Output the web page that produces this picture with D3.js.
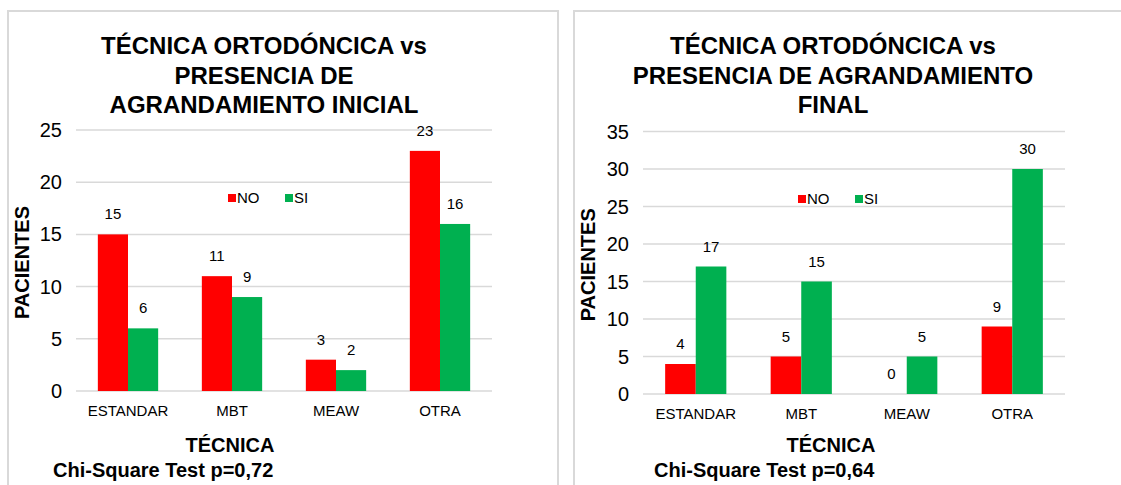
<!DOCTYPE html>
<html>
<head>
<meta charset="utf-8">
<script src="https://cdn.jsdelivr.net/npm/d3@7"></script>
<style>
  body { margin: 0; background: #fff; }
  svg { display: block; font-family: "Liberation Sans", Arial, sans-serif; }
</style>
</head>
<body>
<svg width="1121" height="485"></svg>
<script>
// data
const categories = ["ESTANDAR", "MBT", "MEAW", "OTRA"];
const seriesNames = ["NO", "SI"];
const inicialNO = [15, 11, 3, 23];
const inicialSI = [6, 9, 2, 16];
const finalNO = [4, 5, 0, 9];
const finalSI = [17, 15, 5, 30];
const colors = ["#FF0000", "#00B050"];

var svg = d3.select("svg");

function drawChart(opt) {
  var g = svg.append("g");

  // panel frame
  g.append("rect")
    .attr("x", opt.panel[0])
    .attr("y", opt.panel[1])
    .attr("width", opt.panel[2])
    .attr("height", opt.panel[3])
    .attr("fill", "#fff")
    .attr("stroke", "#D9D9D9")
    .attr("stroke-width", 2);

  var x = d3.scaleBand().domain(categories).range([opt.x0, opt.x1]).paddingInner(0.42).paddingOuter(0.21);
  var xs = d3.scaleBand().domain(seriesNames).range([0, x.bandwidth()]);
  var y = d3.scaleLinear().domain([0, opt.max]).range([opt.y0, opt.y1]);

  // gridlines + y ticks
  var ticks = d3.range(0, opt.max + 1, 5);
  g.selectAll(".grid")
    .data(ticks)
    .enter()
    .append("line")
    .attr("x1", opt.x0)
    .attr("x2", opt.x1)
    .attr("y1", (d) => y(d))
    .attr("y2", (d) => y(d))
    .attr("stroke", "#D9D9D9")
    .attr("stroke-width", 1.5);

  g.selectAll(".ytick")
    .data(ticks)
    .enter()
    .append("text")
    .attr("x", opt.x0 - 14)
    .attr("y", (d) => y(d) + 7)
    .attr("text-anchor", "end")
    .attr("font-size", "20px")
    .attr("fill", "#000")
    .text((d) => d);

  // bars
  var rows = categories.map((c, i) => ({ cat: c, vals: [opt.no[i], opt.si[i]] }));
  var groups = g.selectAll(".grp")
    .data(rows)
    .enter()
    .append("g")
    .attr("transform", (d) => "translate(" + x(d.cat) + ",0)");

  groups.selectAll("rect")
    .data((d) => d.vals.map((v, j) => ({ s: seriesNames[j], v: v, j: j })))
    .enter()
    .append("rect")
    .attr("x", (d) => xs(d.s))
    .attr("width", xs.bandwidth())
    .attr("y", (d) => y(d.v))
    .attr("height", (d) => y(0) - y(d.v))
    .attr("fill", (d) => colors[d.j]);

  groups.selectAll("text")
    .data((d) => d.vals.map((v, j) => ({ s: seriesNames[j], v: v })))
    .enter()
    .append("text")
    .attr("x", (d) => xs(d.s) + xs.bandwidth() / 2)
    .attr("y", (d) => y(d.v) - 15)
    .attr("text-anchor", "middle")
    .attr("font-size", "15px")
    .text((d) => d.v);

  // category labels
  g.selectAll(".xlab")
    .data(categories)
    .enter()
    .append("text")
    .attr("x", (d) => x(d) + x.bandwidth() / 2)
    .attr("y", opt.y0 + 25)
    .attr("text-anchor", "middle")
    .attr("font-size", "15px")
    .text((d) => d);

  // title
  g.selectAll(".title")
    .data(opt.title)
    .enter()
    .append("text")
    .attr("x", opt.titleX)
    .attr("y", (d, i) => 54 + i * 29.5)
    .attr("text-anchor", "middle")
    .attr("font-size", "24px")
    .attr("font-weight", "bold")
    .text((d) => d);

  // legend
  seriesNames.forEach(function (s, i) {
    var lx = opt.legendX + i * 57;
    g.append("rect")
      .attr("x", lx)
      .attr("y", opt.legendY)
      .attr("width", 8)
      .attr("height", 8)
      .attr("fill", colors[i]);
    g.append("text")
      .attr("x", lx + 9)
      .attr("y", opt.legendY + 9)
      .attr("font-size", "15px")
      .text(s);
  });

  // axis titles
  g.append("text")
    .attr("transform", "translate(" + (opt.yTitleX) + "," + ((opt.y0 + opt.y1) / 2 + 2) + ") rotate(-90)")
    .attr("text-anchor", "middle")
    .attr("font-size", "20px")
    .attr("font-weight", "bold")
    .text("PACIENTES");

  g.append("text")
    .attr("x", opt.xTitleX)
    .attr("y", 452)
    .attr("text-anchor", "middle")
    .attr("font-size", "20px")
    .attr("font-weight", "bold")
    .text("TÉCNICA");

  g.append("text")
    .attr("x", opt.chiX)
    .attr("y", 477)
    .attr("font-size", "20px")
    .attr("font-weight", "bold")
    .text(opt.chi);
}

drawChart({
  panel: [8, 11, 550, 490],
  x0: 76, x1: 492, y0: 391, y1: 130, max: 25,
  no: inicialNO, si: inicialSI,
  title: ["TÉCNICA ORTODÓNCICA vs", "PRESENCIA DE", "AGRANDAMIENTO INICIAL"],
  titleX: 264,
  legendX: 228, legendY: 194,
  yTitleX: 29, xTitleX: 230, chiX: 53,
  chi: "Chi-Square Test p=0,72"
});

drawChart({
  panel: [574, 11, 560, 490],
  x0: 643, x1: 1065, y0: 394, y1: 131.5, max: 35,
  no: finalNO, si: finalSI,
  title: ["TÉCNICA ORTODÓNCICA vs", "PRESENCIA DE AGRANDAMIENTO", "FINAL"],
  titleX: 833,
  legendX: 798, legendY: 195,
  yTitleX: 595, xTitleX: 831, chiX: 654,
  chi: "Chi-Square Test p=0,64"
});
</script>
</body>
</html>
